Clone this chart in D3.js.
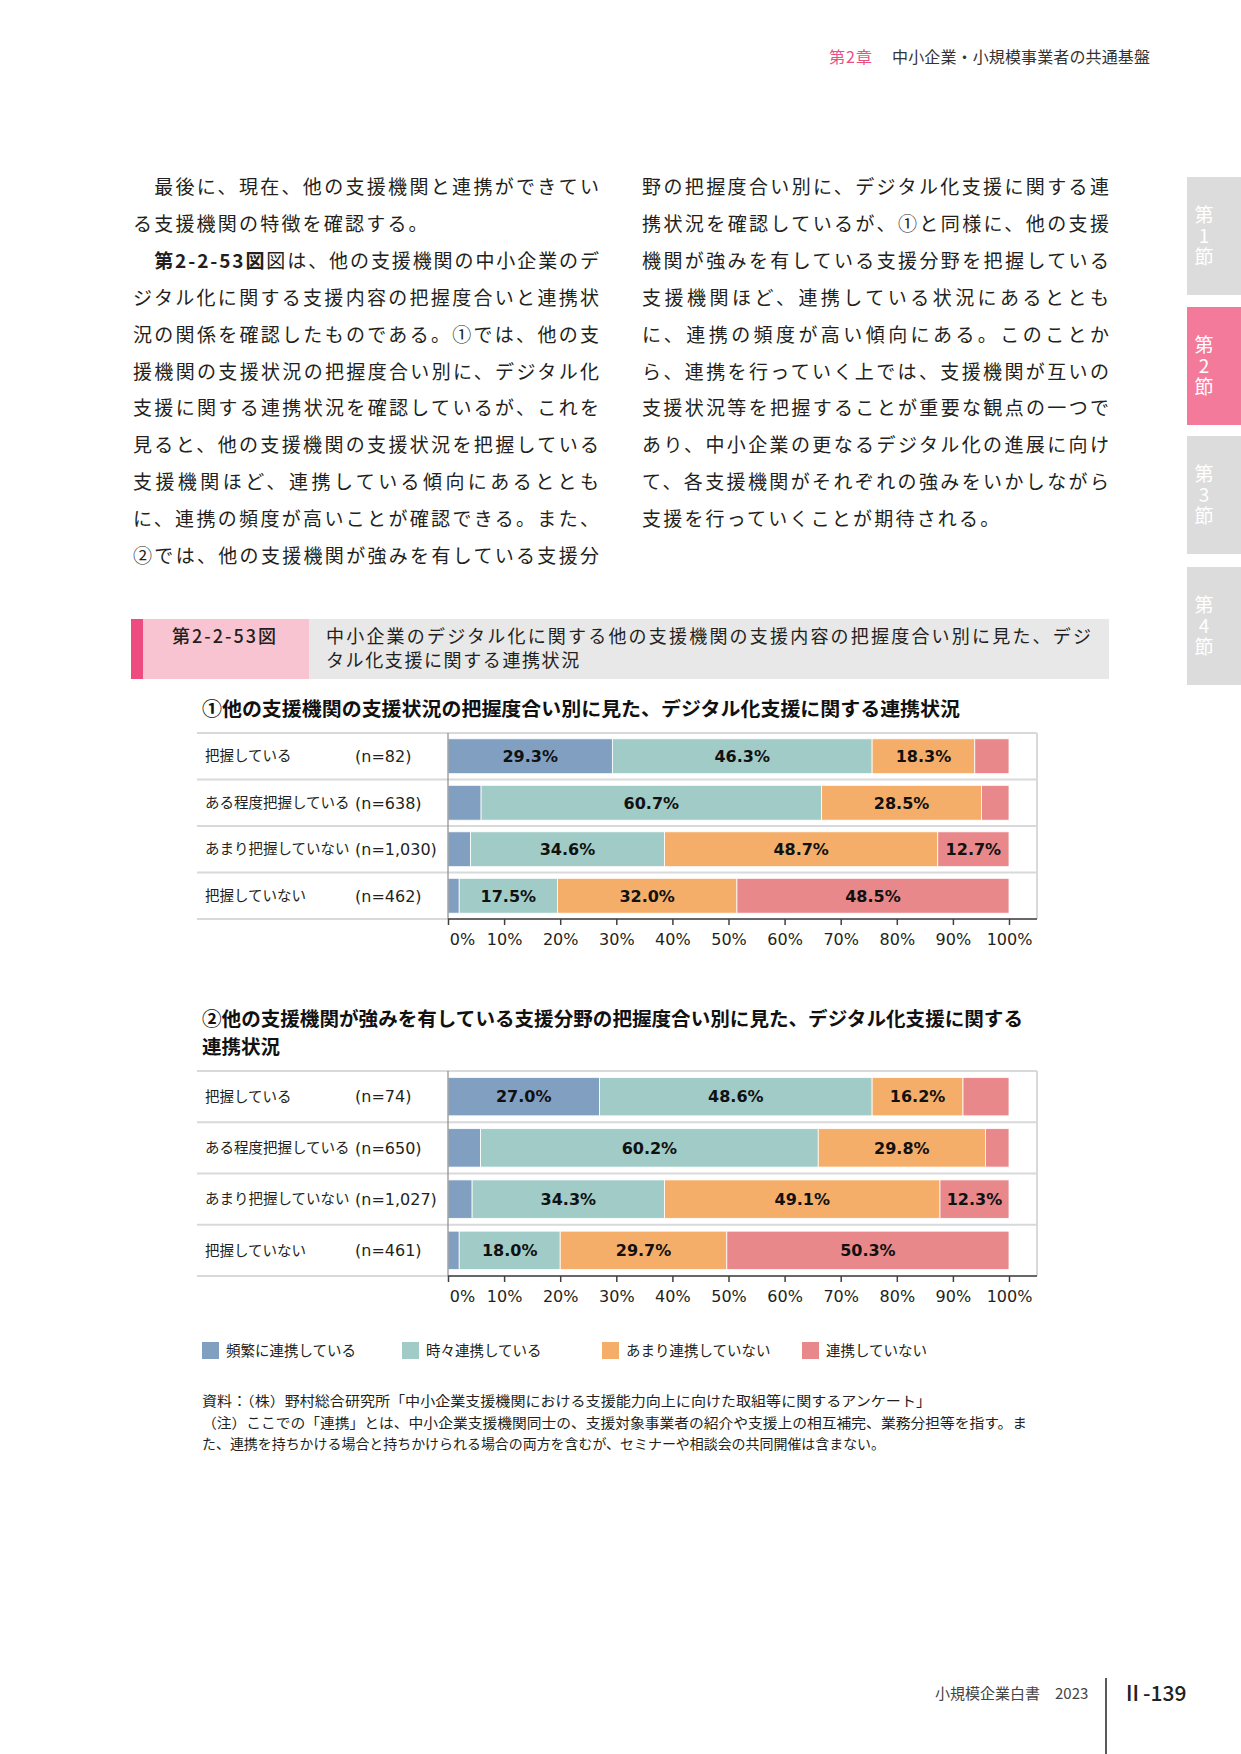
<!DOCTYPE html>
<html>
<head>
<meta charset="utf-8">
<title>第2-2-53図</title>
<style>
  body { margin: 0; background: #fff; }
</style>
</head>
<body>
<svg id="page" width="1241" height="1754" font-family="'Noto Sans CJK JP', sans-serif"></svg>
<script src="https://cdnjs.cloudflare.com/ajax/libs/d3/7.8.5/d3.min.js"></script>
<script>
// ---- データ ----
const categories = ["把握している", "ある程度把握している", "あまり把握していない", "把握していない"];
const series = ["頻繁に連携している", "時々連携している", "あまり連携していない", "連携していない"];
const colors = ["#819fc1", "#a0cbc7", "#f5ae69", "#e8888a"];
const tickValues = [0, 10, 20, 30, 40, 50, 60, 70, 80, 90, 100];

// ①
const counts1 = ["(n=82)", "(n=638)", "(n=1,030)", "(n=462)"];
const frequent1 = [29.3, 5.9, 4.0, 2.0];
const sometimes1 = [46.3, 60.7, 34.6, 17.5];
const rarely1 = [18.3, 28.5, 48.7, 32.0];
const never1 = [6.1, 4.9, 12.7, 48.5];

// ②
const counts2 = ["(n=74)", "(n=650)", "(n=1,027)", "(n=461)"];
const frequent2 = [27.0, 5.8, 4.3, 2.0];
const sometimes2 = [48.6, 60.2, 34.3, 18.0];
const rarely2 = [16.2, 29.8, 49.1, 29.7];
const never2 = [8.2, 4.2, 12.3, 50.3];

const leftText = [
  "　最後に、現在、他の支援機関と連携ができてい",
  "る支援機関の特徴を確認する。",
  "　第2-2-53図は、他の支援機関の中小企業のデ",
  "ジタル化に関する支援内容の把握度合いと連携状",
  "況の関係を確認したものである。①では、他の支",
  "援機関の支援状況の把握度合い別に、デジタル化",
  "支援に関する連携状況を確認しているが、これを",
  "見ると、他の支援機関の支援状況を把握している",
  "支援機関ほど、連携している傾向にあるととも",
  "に、連携の頻度が高いことが確認できる。また、",
  "②では、他の支援機関が強みを有している支援分"
];
const rightText = [
  "野の把握度合い別に、デジタル化支援に関する連",
  "携状況を確認しているが、①と同様に、他の支援",
  "機関が強みを有している支援分野を把握している",
  "支援機関ほど、連携している状況にあるととも",
  "に、連携の頻度が高い傾向にある。このことか",
  "ら、連携を行っていく上では、支援機関が互いの",
  "支援状況等を把握することが重要な観点の一つで",
  "あり、中小企業の更なるデジタル化の進展に向け",
  "て、各支援機関がそれぞれの強みをいかしながら",
  "支援を行っていくことが期待される。"
];

const svg = d3.select("#page");
const ink = "#231f20";

// ---- ページヘッダー ----
svg.append("text").attr("x", 829).attr("y", 63).attr("font-size", 16)
  .attr("fill", "#ea4f84").attr("letter-spacing", 1).text("第2章");
svg.append("text").attr("x", 892).attr("y", 63).attr("font-size", 16)
  .attr("fill", "#333").attr("textLength", 258).text("中小企業・小規模事業者の共通基盤");

// 右側のタブ
const tabs = [
  {t: "第1節", y: 177, fill: "#dcdcdc"},
  {t: "第2節", y: 307, fill: "#f47a9b"},
  {t: "第3節", y: 436, fill: "#dcdcdc"},
  {t: "第4節", y: 567, fill: "#dcdcdc"}
];
tabs.forEach(d => {
  svg.append("rect").attr("x", 1187).attr("y", d.y).attr("width", 54).attr("height", 118).attr("fill", d.fill);
  svg.append("text").attr("x", 1204).attr("y", d.y + 28)
    .style("writing-mode", "vertical-rl").style("text-orientation", "upright")
    .attr("font-size", 19).attr("letter-spacing", 2).attr("fill", "#fff").text(d.t);
});

// ---- 本文 ----
function bodyColumn(lines, x0, x1, full) {
  lines.forEach((s, i) => {
    const indent = s.startsWith("　");
    const str = indent ? s.slice(1) : s;
    const xs = indent ? x0 + 21.2 : x0;
    const t = svg.append("text").attr("x", xs).attr("y", 194 + i * 36.9)
      .attr("font-size", 19).attr("fill", ink);
    if (full[i]) t.attr("textLength", x1 - xs).attr("lengthAdjust", "spacing");
    else t.attr("letter-spacing", 2.2);
    if (str.startsWith("第2-2-53図")) {
      t.append("tspan").attr("font-weight", "bold").text("第2-2-53図");
      t.append("tspan").text(str.slice(7));
    } else t.text(str);
  });
}
bodyColumn(leftText, 133, 599, leftText.map((d, i) => i !== 1));
bodyColumn(rightText, 642, 1109, rightText.map((d, i) => i !== 9));

// ---- 図タイトル帯 ----
svg.append("rect").attr("x", 131).attr("y", 619).attr("width", 978).attr("height", 60).attr("fill", "#e8e8e8");
svg.append("rect").attr("x", 131).attr("y", 619).attr("width", 178).attr("height", 60).attr("fill", "#f9c4d2");
svg.append("rect").attr("x", 131).attr("y", 619).attr("width", 12).attr("height", 60).attr("fill", "#ee4c80");
svg.append("text").attr("x", 172).attr("y", 643).attr("font-size", 18).attr("font-weight", 500)
  .attr("fill", ink).attr("textLength", 104).text("第2-2-53図");
svg.append("text").attr("x", 326).attr("y", 643).attr("font-size", 18).attr("fill", ink)
  .attr("textLength", 765).text("中小企業のデジタル化に関する他の支援機関の支援内容の把握度合い別に見た、デジ");
svg.append("text").attr("x", 326).attr("y", 667).attr("font-size", 18).attr("fill", ink)
  .attr("letter-spacing", 1.6).text("タル化支援に関する連携状況");

// ---- グラフ ----
const x = d3.scaleLinear().domain([0, 100]).range([448, 1009]);
const plotRight = 1037;
const chartFont = "'DejaVu Sans', 'Noto Sans CJK JP', sans-serif";

function drawChart(cfg) {
  const g = svg.append("g");
  const rows = categories.map((c, i) => ({
    cat: c,
    [series[0]]: cfg.values[0][i],
    [series[1]]: cfg.values[1][i],
    [series[2]]: cfg.values[2][i],
    [series[3]]: cfg.values[3][i]
  }));
  const y = d3.scaleBand().domain(categories).range([cfg.top, cfg.bottom])
    .paddingInner(0.25).paddingOuter(0.125);
  const step = y.step();

  // 行の区切り線
  d3.range(categories.length + 1).forEach(i => {
    const yy = cfg.top + i * step;
    g.append("line").attr("x1", 197).attr("x2", plotRight).attr("y1", yy).attr("y2", yy)
      .attr("stroke", "#d9d9d9").attr("stroke-width", 2);
  });
  g.append("line").attr("x1", plotRight).attr("x2", plotRight).attr("y1", cfg.top).attr("y2", cfg.bottom)
    .attr("stroke", "#d9d9d9").attr("stroke-width", 2);

  const stack = d3.stack().keys(series)(rows);
  stack.forEach((layer, k) => {
    const lg = g.append("g");
    lg.selectAll("rect").data(layer).join("rect")
      .attr("x", d => x(d[0])).attr("width", d => x(d[1]) - x(d[0]))
      .attr("y", d => y(d.data.cat)).attr("height", y.bandwidth())
      .attr("fill", colors[k]).attr("stroke", "#fff").attr("stroke-width", 0.8);
    lg.selectAll("text").data(layer.filter(d => d[1] - d[0] >= 10)).join("text")
      .attr("x", d => (x(d[0]) + x(d[1])) / 2)
      .attr("y", d => y(d.data.cat) + y.bandwidth() / 2)
      .attr("dy", "0.36em").attr("text-anchor", "middle")
      .attr("font-family", chartFont).attr("font-weight", "bold").attr("font-size", 16)
      .attr("fill", "#111")
      .text(d => (d[1] - d[0]).toFixed(1) + "%");
  });

  // カテゴリラベル
  g.selectAll(".cat").data(categories).join("text")
    .attr("x", 205).attr("y", d => y(d) + y.bandwidth() / 2).attr("dy", "0.36em")
    .attr("font-size", 14.5).attr("fill", ink).text(d => d);
  g.selectAll(".cnt").data(cfg.counts).join("text")
    .attr("x", 355).attr("y", (d, i) => y(categories[i]) + y.bandwidth() / 2).attr("dy", "0.36em")
    .attr("font-family", chartFont).attr("font-size", 16).attr("fill", ink).text(d => d);

  // 縦軸線
  g.append("line").attr("x1", x(0)).attr("x2", x(0)).attr("y1", cfg.top).attr("y2", cfg.bottom)
    .attr("stroke", "#8c8c8c").attr("stroke-width", 1.2);

  // 横軸
  const ax = g.append("g").attr("transform", `translate(0,${cfg.bottom})`)
    .call(d3.axisBottom(x).tickValues(tickValues).tickFormat(d => d + "%").tickSize(6).tickPadding(9));
  ax.attr("font-family", null).attr("font-size", null);
  ax.select(".domain").remove();
  ax.selectAll(".tick line").attr("stroke", "#404040").attr("stroke-width", 1.5);
  ax.selectAll(".tick text").attr("font-family", chartFont).attr("font-size", 16).attr("fill", ink);
  ax.selectAll(".tick").filter(d => d === 0).select("text").attr("dx", 14);
  g.append("line").attr("x1", x(0)).attr("x2", plotRight).attr("y1", cfg.bottom).attr("y2", cfg.bottom)
    .attr("stroke", "#404040").attr("stroke-width", 1.5);
}

svg.append("text").attr("x", 202).attr("y", 716).attr("font-size", 19).attr("font-weight", "bold")
  .attr("fill", "#111").attr("textLength", 758).attr("lengthAdjust", "spacingAndGlyphs")
  .text("①他の支援機関の支援状況の把握度合い別に見た、デジタル化支援に関する連携状況");
drawChart({top: 733, bottom: 919, counts: counts1, values: [frequent1, sometimes1, rarely1, never1]});

svg.append("text").attr("x", 202).attr("y", 1026).attr("font-size", 19).attr("font-weight", "bold")
  .attr("fill", "#111").attr("textLength", 821).attr("lengthAdjust", "spacingAndGlyphs")
  .text("②他の支援機関が強みを有している支援分野の把握度合い別に見た、デジタル化支援に関する");
svg.append("text").attr("x", 202).attr("y", 1054).attr("font-size", 19).attr("font-weight", "bold")
  .attr("fill", "#111").attr("textLength", 78).attr("lengthAdjust", "spacingAndGlyphs").text("連携状況");
drawChart({top: 1071, bottom: 1276, counts: counts2, values: [frequent2, sometimes2, rarely2, never2]});

// 凡例
const leg = svg.append("g").selectAll("g").data(series).join("g")
  .attr("transform", (d, i) => `translate(${202 + i * 200},1342)`);
leg.append("rect").attr("width", 17).attr("height", 17).attr("fill", (d, i) => colors[i]);
leg.append("text").attr("x", 24).attr("y", 9).attr("dy", "0.36em").attr("font-size", 14.5)
  .attr("fill", ink).text(d => d);

// 資料・注記
const notes = [
  {t: "資料：（株）野村総合研究所「中小企業支援機関における支援能力向上に向けた取組等に関するアンケート」", w: 729},
  {t: "（注）ここでの「連携」とは、中小企業支援機関同士の、支援対象事業者の紹介や支援上の相互補完、業務分担等を指す。ま", w: 825},
  {t: "た、連携を持ちかける場合と持ちかけられる場合の両方を含むが、セミナーや相談会の共同開催は含まない。", w: 683}
];
notes.forEach((d, i) => {
  svg.append("text").attr("x", 202).attr("y", 1406 + i * 21.5).attr("font-size", 14)
    .attr("fill", ink).attr("textLength", d.w).attr("lengthAdjust", "spacingAndGlyphs").text(d.t);
});

// ---- フッター ----
svg.append("text").attr("x", 935).attr("y", 1699).attr("font-size", 15).attr("fill", "#444")
  .text("小規模企業白書　2023");
svg.append("line").attr("x1", 1106).attr("x2", 1106).attr("y1", 1678).attr("y2", 1754)
  .attr("stroke", "#222").attr("stroke-width", 1.5);
svg.append("text").attr("x", 1122).attr("y", 1701).attr("font-size", 21).attr("font-weight", 500)
  .attr("fill", "#222").text("Ⅱ-139");
</script>
</body>
</html>
